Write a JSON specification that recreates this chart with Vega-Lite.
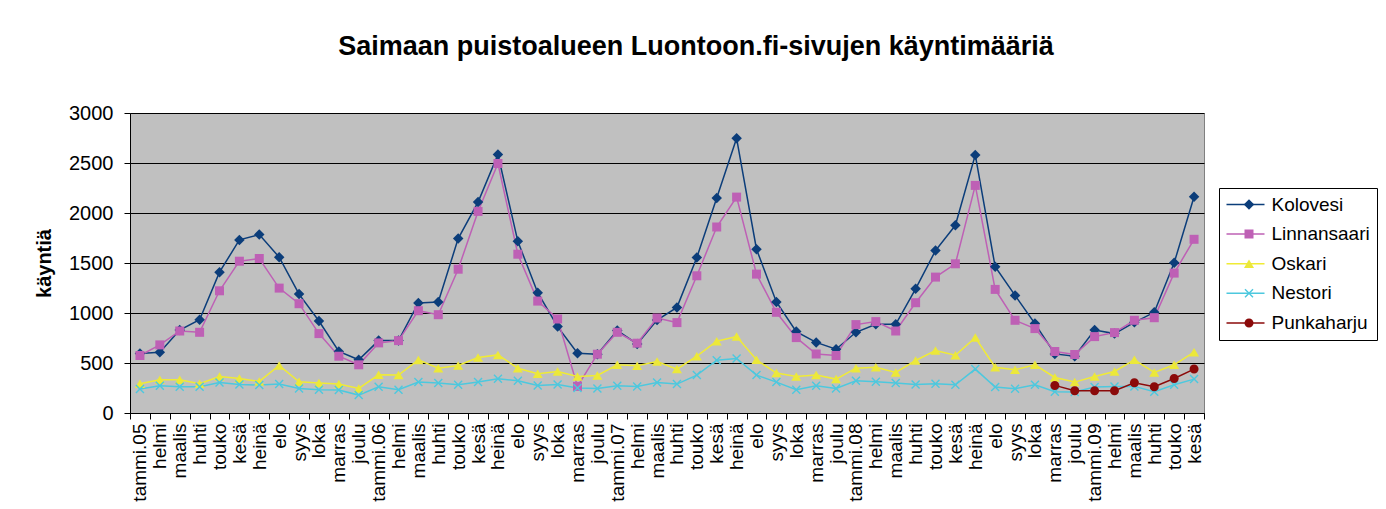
{
  "$schema": "https://vega.github.io/schema/vega-lite/v6.json",
  "width": 1074,
  "height": 300,
  "autosize": {"type": "none"},
  "padding": {"left": 130, "top": 113, "right": 182, "bottom": 96},
  "background": "white",
  "title": {
    "text": "Saimaan puistoalueen Luontoon.fi-sivujen käyntimääriä",
    "fontSize": 27,
    "fontWeight": "bold",
    "font": "Liberation Sans",
    "color": "black",
    "anchor": "middle",
    "dx": 29,
    "offset": 21,
    "baseline": "alphabetic"
  },
  "data": {
    "values": [
      {"kk": "2005-01", "Kolovesi": 595, "Linnansaari": 575, "Oskari": 292, "Nestori": 239},
      {"kk": "2005-02", "Kolovesi": 608, "Linnansaari": 681, "Oskari": 332, "Nestori": 272},
      {"kk": "2005-03", "Kolovesi": 830, "Linnansaari": 820, "Oskari": 332, "Nestori": 262},
      {"kk": "2005-04", "Kolovesi": 933, "Linnansaari": 807, "Oskari": 292, "Nestori": 262},
      {"kk": "2005-05", "Kolovesi": 1408, "Linnansaari": 1222, "Oskari": 365, "Nestori": 306},
      {"kk": "2005-06", "Kolovesi": 1731, "Linnansaari": 1518, "Oskari": 345, "Nestori": 286},
      {"kk": "2005-07", "Kolovesi": 1784, "Linnansaari": 1545, "Oskari": 316, "Nestori": 279},
      {"kk": "2005-08", "Kolovesi": 1558, "Linnansaari": 1249, "Oskari": 475, "Nestori": 289},
      {"kk": "2005-09", "Kolovesi": 1189, "Linnansaari": 1093, "Oskari": 312, "Nestori": 246},
      {"kk": "2005-10", "Kolovesi": 920, "Linnansaari": 794, "Oskari": 299, "Nestori": 233},
      {"kk": "2005-11", "Kolovesi": 615, "Linnansaari": 568, "Oskari": 289, "Nestori": 229},
      {"kk": "2005-12", "Kolovesi": 532, "Linnansaari": 482, "Oskari": 246, "Nestori": 179},
      {"kk": "2006-01", "Kolovesi": 724, "Linnansaari": 701, "Oskari": 382, "Nestori": 262},
      {"kk": "2006-02", "Kolovesi": 724, "Linnansaari": 724, "Oskari": 379, "Nestori": 233},
      {"kk": "2006-03", "Kolovesi": 1100, "Linnansaari": 1023, "Oskari": 531, "Nestori": 309},
      {"kk": "2006-04", "Kolovesi": 1110, "Linnansaari": 983, "Oskari": 448, "Nestori": 299},
      {"kk": "2006-05", "Kolovesi": 1744, "Linnansaari": 1438, "Oskari": 475, "Nestori": 282},
      {"kk": "2006-06", "Kolovesi": 2109, "Linnansaari": 2016, "Oskari": 555, "Nestori": 309},
      {"kk": "2006-07", "Kolovesi": 2585, "Linnansaari": 2495, "Oskari": 581, "Nestori": 342},
      {"kk": "2006-08", "Kolovesi": 1717, "Linnansaari": 1588, "Oskari": 448, "Nestori": 322},
      {"kk": "2006-09", "Kolovesi": 1203, "Linnansaari": 1119, "Oskari": 392, "Nestori": 276},
      {"kk": "2006-10", "Kolovesi": 864, "Linnansaari": 940, "Oskari": 415, "Nestori": 286},
      {"kk": "2006-11", "Kolovesi": 598, "Linnansaari": 266, "Oskari": 365, "Nestori": 249},
      {"kk": "2006-12", "Kolovesi": 588, "Linnansaari": 588, "Oskari": 375, "Nestori": 246},
      {"kk": "2007-01", "Kolovesi": 824, "Linnansaari": 807, "Oskari": 482, "Nestori": 272},
      {"kk": "2007-02", "Kolovesi": 691, "Linnansaari": 698, "Oskari": 472, "Nestori": 266},
      {"kk": "2007-03", "Kolovesi": 930, "Linnansaari": 950, "Oskari": 515, "Nestori": 306},
      {"kk": "2007-04", "Kolovesi": 1056, "Linnansaari": 904, "Oskari": 439, "Nestori": 289},
      {"kk": "2007-05", "Kolovesi": 1555, "Linnansaari": 1372, "Oskari": 568, "Nestori": 379},
      {"kk": "2007-06", "Kolovesi": 2149, "Linnansaari": 1860, "Oskari": 718, "Nestori": 528},
      {"kk": "2007-07", "Kolovesi": 2747, "Linnansaari": 2159, "Oskari": 764, "Nestori": 545},
      {"kk": "2007-08", "Kolovesi": 1638, "Linnansaari": 1389, "Oskari": 532, "Nestori": 379},
      {"kk": "2007-09", "Kolovesi": 1110, "Linnansaari": 1007, "Oskari": 399, "Nestori": 309},
      {"kk": "2007-10", "Kolovesi": 814, "Linnansaari": 754, "Oskari": 365, "Nestori": 233},
      {"kk": "2007-11", "Kolovesi": 706, "Linnansaari": 590, "Oskari": 379, "Nestori": 272},
      {"kk": "2007-12", "Kolovesi": 638, "Linnansaari": 575, "Oskari": 339, "Nestori": 246},
      {"kk": "2008-01", "Kolovesi": 807, "Linnansaari": 884, "Oskari": 448, "Nestori": 322},
      {"kk": "2008-02", "Kolovesi": 887, "Linnansaari": 914, "Oskari": 458, "Nestori": 312},
      {"kk": "2008-03", "Kolovesi": 887, "Linnansaari": 820, "Oskari": 405, "Nestori": 299},
      {"kk": "2008-04", "Kolovesi": 1242, "Linnansaari": 1103, "Oskari": 525, "Nestori": 286},
      {"kk": "2008-05", "Kolovesi": 1624, "Linnansaari": 1359, "Oskari": 625, "Nestori": 292},
      {"kk": "2008-06", "Kolovesi": 1877, "Linnansaari": 1492, "Oskari": 578, "Nestori": 282},
      {"kk": "2008-07", "Kolovesi": 2581, "Linnansaari": 2276, "Oskari": 754, "Nestori": 439},
      {"kk": "2008-08", "Kolovesi": 1462, "Linnansaari": 1236, "Oskari": 458, "Nestori": 259},
      {"kk": "2008-09", "Kolovesi": 1176, "Linnansaari": 927, "Oskari": 432, "Nestori": 243},
      {"kk": "2008-10", "Kolovesi": 894, "Linnansaari": 844, "Oskari": 482, "Nestori": 282},
      {"kk": "2008-11", "Kolovesi": 591, "Linnansaari": 615, "Oskari": 355, "Nestori": 213, "Punkaharju": 276},
      {"kk": "2008-12", "Kolovesi": 568, "Linnansaari": 585, "Oskari": 309, "Nestori": 209, "Punkaharju": 223},
      {"kk": "2009-01", "Kolovesi": 830, "Linnansaari": 764, "Oskari": 365, "Nestori": 259, "Punkaharju": 223},
      {"kk": "2009-02", "Kolovesi": 794, "Linnansaari": 804, "Oskari": 415, "Nestori": 266, "Punkaharju": 223},
      {"kk": "2009-03", "Kolovesi": 907, "Linnansaari": 927, "Oskari": 532, "Nestori": 266, "Punkaharju": 302},
      {"kk": "2009-04", "Kolovesi": 1007, "Linnansaari": 953, "Oskari": 405, "Nestori": 213, "Punkaharju": 262},
      {"kk": "2009-05", "Kolovesi": 1502, "Linnansaari": 1399, "Oskari": 482, "Nestori": 282, "Punkaharju": 345},
      {"kk": "2009-06", "Kolovesi": 2163, "Linnansaari": 1737, "Oskari": 608, "Nestori": 339, "Punkaharju": 439}
    ]
  },
  "transform": [
    {"fold": ["Kolovesi", "Linnansaari", "Oskari", "Nestori", "Punkaharju"], "as": ["sarja", "v"]},
    {"filter": "isValid(datum.v)"}
  ],
  "encoding": {
    "x": {
      "field": "kk",
      "type": "ordinal",
      "bandPosition": 0.5,
      "scale": {"type": "band", "paddingInner": 0, "paddingOuter": 0},
      "axis": {
        "title": null,
        "labelExpr": "isValid(datum.value) && length(datum.value) == 7 ? ['tammi','helmi','maalis','huhti','touko','kesä','heinä','elo','syys','loka','marras','joulu'][toNumber(substring(datum.value,5,7))-1] + (substring(datum.value,5,7)=='01' ? '.' + substring(datum.value,2,4) : '') : ''",
        "labelAngle": -90,
        "labelAlign": "right",
        "labelBaseline": "middle",
        "labelFontSize": 19,
        "labelFont": "Liberation Sans",
        "labelColor": "black",
        "labelPadding": 4,
        "labelOverlap": false,
        "tickBand": "extent",
        "tickSize": 6,
        "tickColor": "black",
        "domainColor": "black",
        "grid": false
      }
    },
    "y": {
      "field": "v",
      "type": "quantitative",
      "scale": {"domain": [0, 3000], "nice": false},
      "axis": {
        "title": "käyntiä",
        "titleFontSize": 20,
        "titleFont": "Liberation Sans",
        "titleFontWeight": "bold",
        "titleColor": "black",
        "titlePadding": 14,
        "values": [0, 500, 1000, 1500, 2000, 2500, 3000],
        "format": "d",
        "labelFontSize": 20,
        "labelFont": "Liberation Sans",
        "labelColor": "black",
        "labelPadding": 11,
        "tickSize": 6,
        "tickColor": "black",
        "domainColor": "black",
        "grid": true,
        "gridColor": "black",
        "gridWidth": 1,
        "gridOpacity": 1
      }
    }
  },
  "layer": [
    {
      "mark": {"type": "line", "strokeWidth": 1.5},
      "encoding": {
        "stroke": {
          "field": "sarja",
          "type": "nominal",
          "sort": ["Kolovesi", "Linnansaari", "Oskari", "Nestori", "Punkaharju"],
          "scale": {
            "range": ["#0B3D7A", "#BE60B5", "#F0EB35", "#4DC8DE", "#8B0A0A"]
          },
          "legend": {
            "orient": "none",
            "legendX": 1089,
            "legendY": 75,
            "title": null,
            "symbolType": "stroke",
            "symbolSize": 1444,
            "symbolStrokeWidth": 1.5,
            "labelFontSize": 19,
            "labelFont": "Liberation Sans",
            "labelColor": "black",
            "labelOffset": 6,
            "labelLimit": 300,
            "padding": 6.5,
            "rowPadding": 9.6,
            "clipHeight": 20,
            "strokeColor": "black"
          }
        }
      }
    },
    {
      "mark": {"type": "point", "filled": true, "opacity": 1, "size": 100},
      "encoding": {
        "color": {
          "field": "sarja",
          "type": "nominal",
          "scale": {
            "domain": ["Kolovesi", "Linnansaari", "Oskari", "Nestori", "Punkaharju"],
            "range": ["#0B3D7A", "#BE60B5", "#ECE83A", "#4DC8DE", "#8B0A0A"]
          },
          "legend": {
            "orient": "none",
            "legendX": 1103,
            "legendY": 75,
            "title": null,
            "symbolSize": 100,
            "symbolOpacity": 1,
            "labelFontSize": 19,
            "labelExpr": "''",
            "labelOffset": 6,
            "padding": 6.5,
            "rowPadding": 9.6,
            "clipHeight": 20
          }
        },
        "shape": {
          "field": "sarja",
          "type": "nominal",
          "scale": {
            "domain": ["Kolovesi", "Linnansaari", "Oskari", "Nestori", "Punkaharju"],
            "range": [
              "M0,-1.05L1.05,0L0,1.05L-1.05,0Z",
              "M-0.9,-0.9H0.9V0.9H-0.9Z",
              "M0,-0.85L1,0.85L-1,0.85Z",
              "M-0.9,-0.7L-0.7,-0.9L0,-0.2L0.7,-0.9L0.9,-0.7L0.2,0L0.9,0.7L0.7,0.9L0,0.2L-0.7,0.9L-0.9,0.7L-0.2,0Z",
              "M-0.9,0A0.9,0.9,0,1,0,0.9,0A0.9,0.9,0,1,0,-0.9,0Z"
            ]
          },
          "legend": {
            "orient": "none",
            "legendX": 1103,
            "legendY": 75,
            "title": null,
            "symbolSize": 100,
            "symbolOpacity": 1,
            "labelFontSize": 19,
            "labelExpr": "''",
            "labelOffset": 6,
            "padding": 6.5,
            "rowPadding": 9.6,
            "clipHeight": 20
          }
        }
      }
    }
  ],
  "config": {
    "font": "Liberation Sans",
    "view": {"stroke": "#808080", "fill": "#C0C0C0"}
  }
}
